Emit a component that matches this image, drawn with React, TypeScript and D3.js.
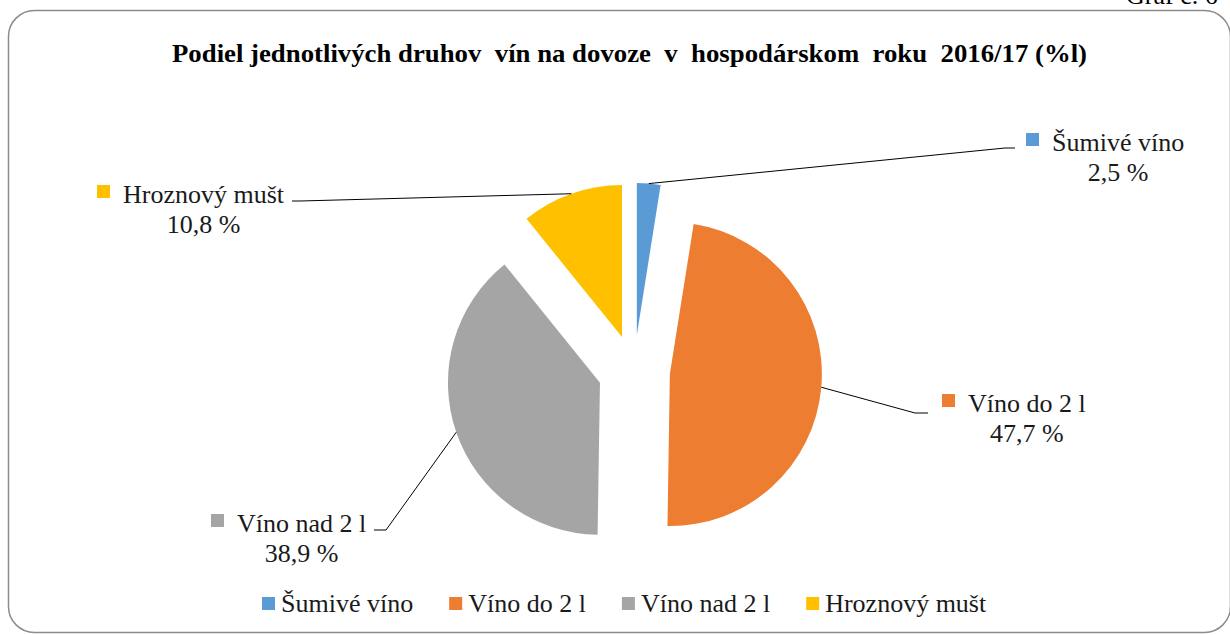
import React, { useEffect, useRef } from 'react';
import * as d3 from 'd3';

const categories = ['Šumivé víno', 'Víno do 2 l', 'Víno nad 2 l', 'Hroznový mušt'];
const shares = [2.5, 47.7, 38.9, 10.8];
const shareLabels = ['2,5 %', '47,7 %', '38,9 %', '10,8 %'];
const colors = ['#5B9BD5', '#ED7D31', '#A5A5A5', '#FFC000'];

const W = 1230;
const H = 635;
const FONT = '"Liberation Serif", "Times New Roman", serif';

// label anchors (text start, first baseline) and leader line elbows
const labelPos = [
  { x: 1052, y: 151, elbow: [[1005, 148], [1015, 148]] },
  { x: 968, y: 412, elbow: [[915, 413], [928, 413]] },
  { x: 237, y: 532, elbow: [[386, 530], [374, 530]] },
  { x: 123, y: 203, elbow: [[300, 201], [292, 201]] },
];

function App() {
  const svgRef = useRef<SVGSVGElement>(null);

  useEffect(() => {
    const svg = d3.select(svgRef.current);
    svg.selectAll('*').remove();

    // frame
    svg.append('rect')
      .attr('x', 8.5).attr('y', 10.5)
      .attr('width', 1222).attr('height', 622)
      .attr('rx', 26)
      .attr('fill', 'none')
      .attr('stroke', '#8c8c8c')
      .attr('stroke-width', 1.5);

    svg.append('text')
      .attr('x', 1126).attr('y', 4)
      .attr('font-family', FONT).attr('font-size', 26)
      .text('Graf č. 6');

    svg.append('text')
      .attr('x', 172).attr('y', 62)
      .attr('font-family', FONT).attr('font-size', 26)
      .attr('font-weight', 'bold')
      .attr('textLength', 915)
      .attr('lengthAdjust', 'spacingAndGlyphs')
      .style('white-space', 'pre')
      .text('Podiel jednotlivých druhov  vín na dovoze  v  hospodárskom  roku  2016/17 (%l)');

    const cx = 634;
    const cy = 371;
    const radius = 152;
    const explode = 36;

    const pie = d3.pie<number>().sort(null).value((d) => d)
      .startAngle(0).endAngle(Math.PI * 2);
    const arcs = pie(shares);

    const arc = d3.arc<d3.PieArcDatum<number>>().innerRadius(0).outerRadius(radius);
    const rim = d3.arc<d3.PieArcDatum<number>>().innerRadius(radius).outerRadius(radius);

    const g = svg.append('g').attr('transform', `translate(${cx},${cy})`);

    arcs.forEach((a, i) => {
      const mid = (a.startAngle + a.endAngle) / 2;
      const ox = explode * Math.sin(mid);
      const oy = -explode * Math.cos(mid);
      g.append('path')
        .attr('transform', `translate(${ox},${oy})`)
        .attr('d', arc(a))
        .attr('fill', colors[i]);

      const [px, py] = rim.centroid(a);
      const p = labelPos[i];
      const pts = [[cx + ox + px, cy + oy + py], ...p.elbow];
      svg.append('path')
        .attr('d', d3.line()(pts as [number, number][]))
        .attr('fill', 'none')
        .attr('stroke', '#000')
        .attr('stroke-width', 1);

      svg.append('rect')
        .attr('x', p.x - 26).attr('y', p.y - 18)
        .attr('width', 13).attr('height', 13)
        .attr('fill', colors[i]);
      const t = svg.append('text')
        .attr('x', p.x).attr('y', p.y)
        .attr('font-family', FONT).attr('font-size', 26)
        .attr('fill', '#1a1a1a')
        .text(categories[i]);
      const w = (t.node() as SVGTextElement).getComputedTextLength();
      svg.append('text')
        .attr('x', p.x + w / 2).attr('y', p.y + 30)
        .attr('text-anchor', 'middle')
        .attr('font-family', FONT).attr('font-size', 26)
        .attr('fill', '#1a1a1a')
        .text(shareLabels[i]);
    });

    // legend
    let lx = 262;
    const ly = 612;
    categories.forEach((c, i) => {
      svg.append('rect')
        .attr('x', lx).attr('y', ly - 15)
        .attr('width', 13).attr('height', 13)
        .attr('fill', colors[i]);
      const t = svg.append('text')
        .attr('x', lx + 19).attr('y', ly)
        .attr('font-family', FONT).attr('font-size', 26)
        .attr('fill', '#1a1a1a')
        .text(c);
      const w = (t.node() as SVGTextElement).getComputedTextLength();
      lx += 19 + w + 36;
    });
  }, []);

  return (
    <svg ref={svgRef} width={W} height={H}
      style={{ position: 'absolute', left: 0, top: 0, background: '#fff' }} />
  );
}

export default App;
